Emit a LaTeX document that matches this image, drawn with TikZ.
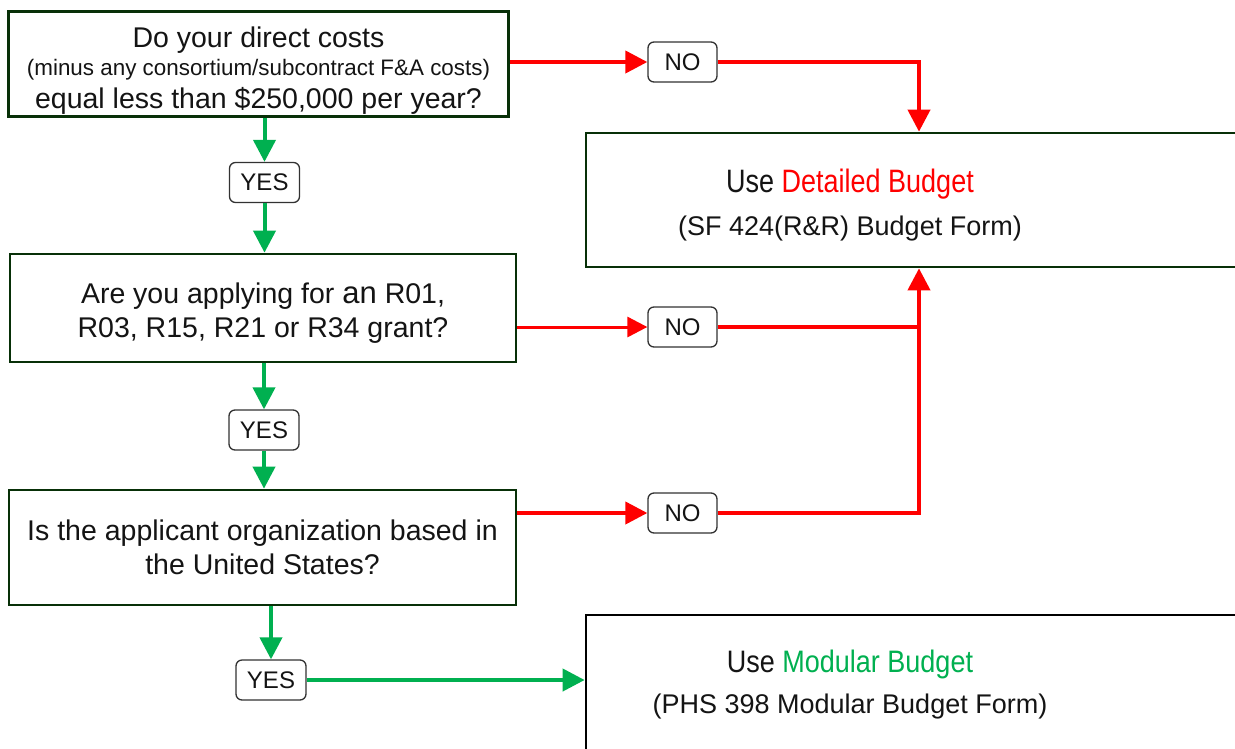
\documentclass[tikz,border=0pt]{standalone}
\usepackage{fontspec}
\setmainfont{Liberation Sans}
\usepackage{graphicx}
\usetikzlibrary{arrows.meta,calc}
\definecolor{boxgreen}{RGB}{8,48,8}
\definecolor{myred}{RGB}{255,0,0}
\definecolor{mygreen}{RGB}{0,176,80}
\definecolor{txt}{RGB}{20,20,20}
\definecolor{lblborder}{RGB}{50,50,50}
\begin{document}
\begin{tikzpicture}[x=1pt,y=-1pt,
  qbox/.style={draw=boxgreen, line width=2.7pt, fill=white, inner sep=0pt, align=center,
    text=txt, font=\fontsize{28.5}{34}\selectfont},
  resbox/.style={draw=boxgreen, line width=2.7pt, fill=white, inner sep=0pt},
  restext/.style={align=center, inner sep=0pt, text=txt, xshift=-69pt,
    font=\fontsize{27}{43}\selectfont},
  lbl/.style={draw=lblborder, line width=1.3pt, rounded corners=6pt, fill=white,
    minimum width=69pt, minimum height=40pt, inner sep=0pt, text=txt,
    font=\fontsize{24}{28}\selectfont},
  redthick/.style={draw=myred, line width=4pt, -{Triangle[length=22pt,width=22pt]}},
  redline/.style={draw=myred, line width=4pt},
  redthin/.style={draw=myred, line width=3pt, -{Triangle[length=20pt,width=20pt]}},
  greenarr/.style={draw=mygreen, line width=4pt, -{Triangle[length=22pt,width=22pt]}}
]
\useasboundingbox (0,0) rectangle (1235,748);

% question boxes
\node[qbox, minimum width=500pt, minimum height=105pt] (q1) at (258.5,64)
  {\rule{0pt}{33pt}Do your direct costs\\[-6pt]{\fontsize{22.4}{34}\selectfont(minus any consortium/subcontract F\&A costs)}\\[-1pt]equal less than \$250,000 per year?};
\node[qbox, minimum width=506pt, minimum height=108pt] (q3) at (263,308)
  {\rule{0pt}{31pt}Are you applying for {\fontsize{31}{34}\selectfont an} R01,\\R03, R15, R21 or R34 grant?};
\node[qbox, minimum width=507pt, minimum height=115pt] (q4) at (262.5,547.5)
  {Is the applicant organization based in\\the United States?};

% result boxes
\node[resbox, minimum width=666pt, minimum height=134pt,
  label={[restext, name=dtext]center:{\rule{0pt}{32.6pt}\scalebox{1}[1.2]{Use \textcolor{myred}{Detailed Budget}}\\(SF 424(R\&R) Budget Form)}}]
  (d) at (919,200) {};
\node[resbox, draw=black, minimum width=666pt, minimum height=145pt,
  label={[restext, name=mtext, font=\fontsize{27}{41}\selectfont, yshift=3pt]center:{\scalebox{1}[1.15]{Use \textcolor{mygreen}{Modular Budget}}\\(PHS 398 Modular Budget Form)}}]
  (m) at (919,687.5) {};

% labels
\node[lbl] (no1) at (682.5,62) {NO};
\node[lbl] (no2) at (682.5,327) {NO};
\node[lbl] (no3) at (682.5,513) {NO};
\node[lbl, minimum width=70pt] (yes1) at (264.5,182.5) {YES};
\node[lbl, minimum width=70pt] (yes2) at (264,430) {YES};
\node[lbl, minimum width=70pt] (yes3) at (271,680) {YES};

% connectors
\draw[redthick] (no1 -| q1.east) -- (no1.west);
\draw[redthick] (no1.east) -| (d.north);
\draw[greenarr] (q1.south -| yes1) -- (yes1.north);
\draw[greenarr] (yes1.south) -- (yes1.south |- q3.north);
\draw[redthin] (no2 -| q3.east) -- (no2.west);
\draw[redline] (no2.east) -- (no2 -| d.south);
\draw[redthick] (no3 -| q4.east) -- (no3.west);
\draw[redthick] (no3.east) -| (d.south);
\draw[greenarr] (q3.south -| yes2) -- (yes2.north);
\draw[greenarr] (yes2.south) -- (yes2.south |- q4.north);
\draw[greenarr] (q4.south -| yes3) -- (yes3.north);
\draw[greenarr] (yes3.east) -- (yes3 -| m.west);
\end{tikzpicture}
\end{document}
